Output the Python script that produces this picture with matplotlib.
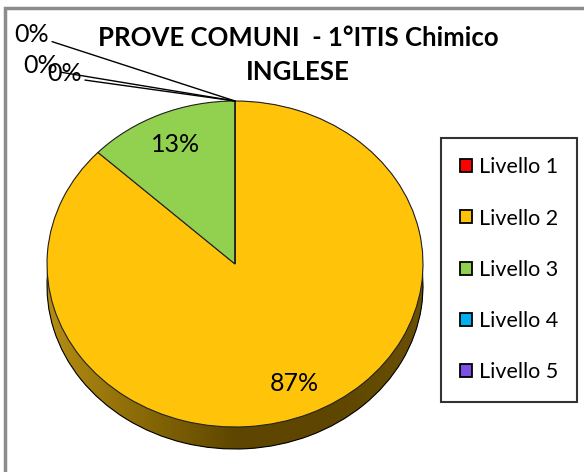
import numpy as np
import matplotlib.pyplot as plt
from matplotlib.colors import LinearSegmentedColormap, to_rgb
from matplotlib.patches import Rectangle

livelli = ['Livello 1', 'Livello 2', 'Livello 3', 'Livello 4', 'Livello 5']
percentuali = [0, 87, 13, 0, 0]
colori = ['#ff0000', '#ffc40a', '#92d050', '#00b0f0', '#7b52e3']
titolo = 'PROVE COMUNI  - 1°ITIS Chimico\nINGLESE'

W, H = 584, 472
plt.rcParams['font.family'] = ['Lato', 'DejaVu Sans']


def main():
    fig = plt.figure(figsize=(W / 100, H / 100), dpi=100)
    ax = fig.add_axes([0, 0, 1, 1])

    # torta "schiacciata": raggi in pixel e centro
    rx, ry = 188, 163
    cx, cy = 235, 264
    spessore = 22 / ry

    # bordo 3D sotto la torta
    scuri = [tuple(c * 0.55 for c in to_rgb(col)) for col in colori]
    grad = LinearSegmentedColormap.from_list(
        'bordo', ['#b48d14', '#8a6a06', '#5e4600', '#5e4600', '#6a5004'])
    xs = np.linspace(0, 1, 256).reshape(1, -1)
    for off in np.linspace(spessore, 0, 12):
        wb, _ = ax.pie(percentuali, colors=scuri, startangle=90, counterclock=False,
                       center=(0, -off), wedgeprops=dict(linewidth=0))
        for w in wb:
            w.set_zorder(1)
        img = ax.imshow(xs, cmap=grad, extent=(-1, 1, -1 - off, 1 - off),
                        aspect='auto', zorder=1.5, interpolation='bicubic')
        img.set_clip_path(wb[1])
    wo, _ = ax.pie(percentuali, startangle=90, counterclock=False, center=(0, -spessore),
                   wedgeprops=dict(fill=False, edgecolor='black', linewidth=0.8))
    for w in wo:
        w.set_zorder(1.8)

    # faccia superiore
    wedges, _, autotexts = ax.pie(
        percentuali, colors=colori, startangle=90, counterclock=False,
        autopct=lambda p: '%d%%' % round(p) if p > 0 else '', pctdistance=0.8,
        wedgeprops=dict(edgecolor='#222222', linewidth=0.8),
        textprops=dict(fontsize=18, color='black'))
    for w in wedges:
        w.set_zorder(3)
    for t in autotexts:
        t.set_zorder(4)

    # etichette 0% con linee guida
    pos_zero = [(-1.08, 1.405), (-1.035, 1.215), (-0.905, 1.166)]
    zeri = [i for i, v in enumerate(percentuali) if v == 0]
    for i, pos in zip(zeri, pos_zero):
        th = np.deg2rad(wedges[i].theta1)
        ax.annotate('0%', xy=(np.cos(th), np.sin(th)), xytext=pos,
                    ha='center', va='center', fontsize=18, zorder=5,
                    arrowprops=dict(arrowstyle='-', color='black', lw=1,
                                    shrinkA=0, shrinkB=0, relpos=(1, 0.25)))

    ax.set_aspect('auto')
    ax.set_xlim(-cx / rx, (W - cx) / rx)
    ax.set_ylim(-(H - cy) / ry, cy / ry)
    ax.axis('off')

    fig.text(298 / W, 1 - 55 / H, titolo, ha='center', va='center',
             fontsize=18.5, fontweight='bold', linespacing=1.5)

    leg = fig.legend(wedges, livelli, loc='upper left',
                     bbox_to_anchor=(441 / W, 1 - 138 / H), fontsize=15.5,
                     frameon=True, fancybox=False, edgecolor='black',
                     labelspacing=1.45, borderpad=0.9, handlelength=0.55,
                     handleheight=0.55, handletextpad=0.3, borderaxespad=0)
    leg.get_frame().set_linewidth(1.5)
    for h in leg.legend_handles:
        h.set_edgecolor('black')
        h.set_linewidth(1.3)

    fig.add_artist(Rectangle((5 / W, -0.1), 2, 1.1 - 8 / H, transform=fig.transFigure,
                             fill=False, edgecolor='#8c8c8c', linewidth=2.5))

    fig.savefig('out.png', dpi=100)


if __name__ == '__main__':
    main()
